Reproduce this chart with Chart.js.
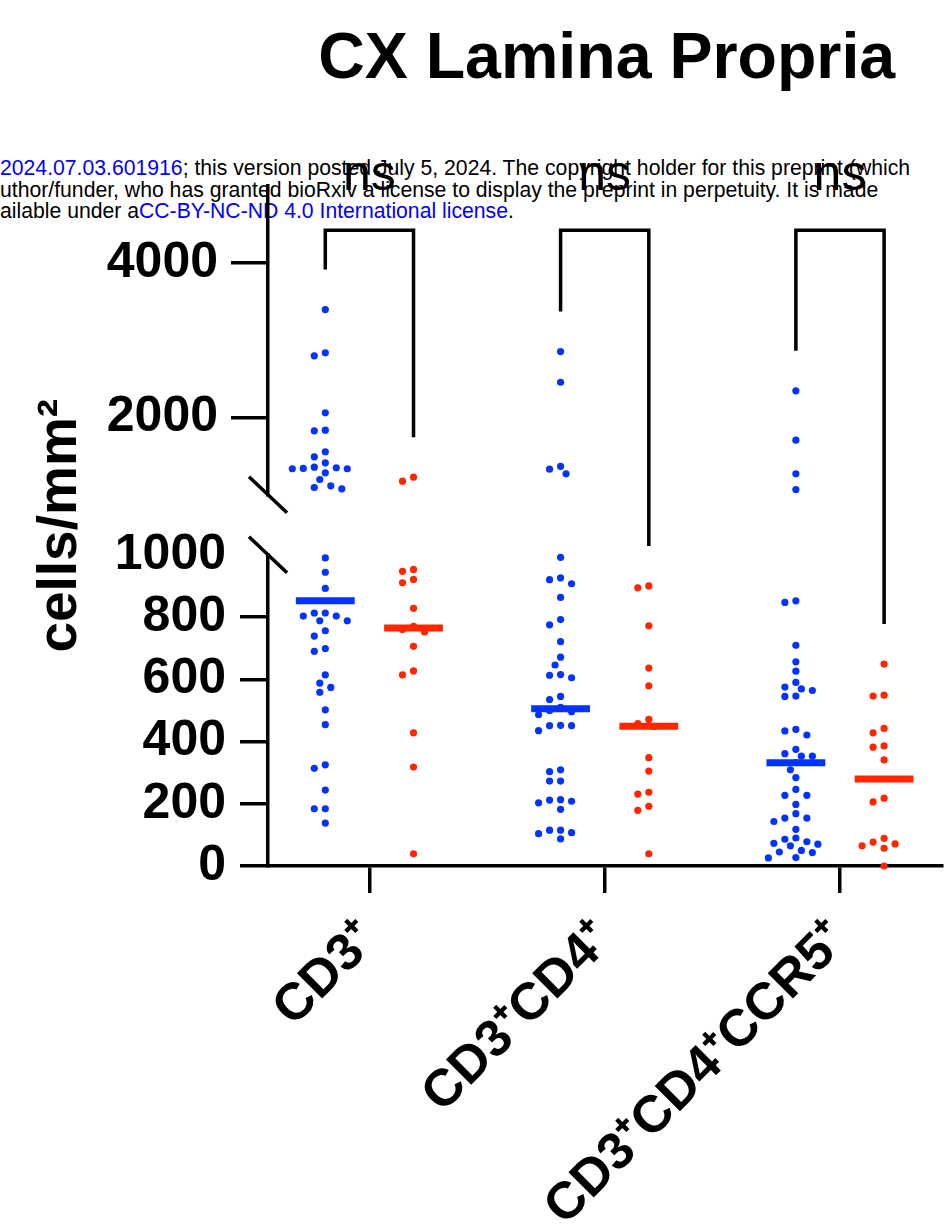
<!DOCTYPE html>
<html>
<head>
<meta charset="utf-8">
<title>CX Lamina Propria</title>
<script src="https://cdn.jsdelivr.net/npm/chart.js@4.4.1/dist/chart.umd.min.js"></script>
<style>
  html, body { margin: 0; padding: 0; background: #fff; }
  #wrap { position: relative; width: 945px; height: 1231px; overflow: hidden; }
  .wm { position: absolute; left: 0; white-space: nowrap; color: #000;
        font-family: 'Liberation Sans', Arial, Helvetica, sans-serif; font-size: 21.2px; line-height: 21.5px; }
  .wm .lnk { color: #0000ff; }
  #chart { position: absolute; left: 0; top: 0; }
</style>
</head>
<body>
<div id="wrap">
  <div class="wm" style="top:157px"><span class="lnk">2024.07.03.601916</span>; this version posted July 5, 2024. The copyright holder for this preprint (which</div>
  <div class="wm" style="top:178.5px">uthor/funder, who has granted bioRxiv a license to display the preprint in perpetuity. It is made</div>
  <div class="wm" style="top:200px">ailable under a<span class="lnk">CC-BY-NC-ND 4.0 International license</span>.</div>
  <canvas id="chart" width="945" height="1231"></canvas>
</div>
<script>
// categories and significance labels
var categories = ['CD3\u207A', 'CD3\u207ACD4\u207A', 'CD3\u207ACD4\u207ACCR5\u207A'];
var pLabels = ['ns', 'ns', 'ns'];

// cells/mm2 (blue and red group of each category)
var cd3Blue = [3396, 2836, 2798, 2061, 1836, 1828, 1557, 1492, 1414, 1358, 1350, 1341, 1337, 1337, 1285, 1198, 1117, 1095, 1078,
               990, 944, 892, 813, 813, 803, 803, 788, 788, 756, 739, 699, 690, 614, 588, 574, 558, 502, 454, 325, 314, 244, 184, 184, 138];
var cd3Red = [1228, 1176, 953, 947, 921, 910, 828, 770, 760, 752, 706, 627, 614, 428, 318, 39];
var cd4Blue = [2853, 2456, 1367, 1332, 1272, 992, 926, 920, 907, 863, 792, 775, 721, 671, 646, 615, 613, 605, 545, 535,
               510, 500, 496, 486, 452, 451, 451, 435, 309, 303, 273, 273, 213, 212, 208, 203, 182, 115, 115, 107, 104, 87];
var cd4Red = [900, 894, 772, 636, 579, 471, 458, 449, 348, 305, 237, 231, 192, 179, 39];
var ccr5Blue = [2345, 1707, 1272, 1069, 852, 847, 709, 656, 626, 590, 575, 569, 564, 546, 545, 439, 434, 421, 375, 361, 353, 353,
                332, 309, 284, 246, 227, 227, 198, 168, 154, 154, 143, 118, 90, 86, 78, 73, 70, 65, 50, 45, 43, 27, 26];
var ccr5Red = [649, 549, 546, 442, 428, 386, 382, 341, 218, 206, 89, 77, 71, 65, 57, 0];

// tick labels of the two axis segments
var yLowTicks = [0, 200, 400, 600, 800, 1000];
var yTopTicks = [2000, 4000];

var blueColor = '#0433ff';
var redColor = '#ff2600';
var fontFamily = "'Liberation Sans', Arial, Helvetica, sans-serif";
var breakAt = 1000;
var bracketTop = 4420;

var groups = [[cd3Blue, cd3Red], [cd4Blue, cd4Red], [ccr5Blue, ccr5Red]];

function median(arr) {
  var s = arr.slice().sort(function(a, b) { return a - b; });
  var m = Math.floor(s.length / 2);
  return s.length % 2 ? s[m] : (s[m - 1] + s[m]) / 2;
}

// simple beeswarm in pixels: nearest free slot on a half-step grid
function swarm(pys, minDist, step) {
  var order = pys.map(function(p, i) { return i; }).sort(function(a, b) { return pys[a] - pys[b]; });
  var cands = [0];
  for (var k = 1; k <= 14; k++) { cands.push(-k * step / 2, k * step / 2); }
  var placed = [];
  var out = [];
  order.forEach(function(i) {
    var y = pys[i];
    for (var c = 0; c < cands.length; c++) {
      var cx = cands[c];
      var ok = placed.every(function(p) {
        return (p.x - cx) * (p.x - cx) + (p.y - y) * (p.y - y) >= minDist * minDist;
      });
      if (ok) { out[i] = cx; placed.push({x: cx, y: y}); break; }
    }
  });
  return out;
}

document.addEventListener('DOMContentLoaded', function() {
  var ctx = document.getElementById('chart').getContext('2d');
  Chart.defaults.font.family = fontFamily;
  Chart.defaults.color = '#000';

  var columns = [];
  var datasets = [];
  groups.forEach(function(g, gi) {
    [[g[0], blueColor, -0.1875], [g[1], redColor, 0.1875]].forEach(function(c) {
      var col = {values: c[0], color: c[1], x: gi + c[2]};
      var med = median(c[0]);
      datasets.push({
        label: 'median', showLine: true, yAxisID: 'y', order: 0,
        data: [{x: col.x - 0.125, y: med}, {x: col.x + 0.125, y: med}],
        borderColor: c[1], borderWidth: 7, borderCapStyle: 'butt', pointRadius: 0, clip: false
      });
      col.low = datasets.push({
        label: 'low', yAxisID: 'y', order: 1, clip: false,
        data: c[0].filter(function(v) { return v <= breakAt; }).map(function(v) { return {x: col.x, y: v}; }),
        backgroundColor: c[1], pointRadius: 3.6, pointBorderWidth: 0, pointHoverRadius: 3.6
      }) - 1;
      col.high = datasets.push({
        label: 'high', yAxisID: 'yTop', order: 1, clip: false,
        data: c[0].filter(function(v) { return v > breakAt; }).map(function(v) { return {x: col.x, y: v}; }),
        backgroundColor: c[1], pointRadius: 3.6, pointBorderWidth: 0, pointHoverRadius: 3.6
      }) - 1;
      columns.push(col);
    });
  });

  function fixWidth(scale) {
    scale.width = 268;
    scale.paddingTop = 0;
    scale.paddingBottom = 0;
  }
  function plain(v) { return String(v); }

  var axisLine = {color: '#000', width: 3.5};

  var decorations = {
    id: 'decorations',
    afterDraw: function(chart) {
      var c = chart.ctx;
      var area = chart.chartArea;
      var xs = chart.scales.x, yLow = chart.scales.y, yTop = chart.scales.yTop;
      function pix(v) { return v > breakAt ? yTop.getPixelForValue(v) : yLow.getPixelForValue(v); }
      c.save();
      c.fillStyle = '#000';
      c.strokeStyle = '#000';

      c.font = 'bold 64.5px ' + fontFamily;
      c.textAlign = 'center';
      c.textBaseline = 'alphabetic';
      c.fillText('CX Lamina Propria', (area.left + area.right) / 2 + 2, 78);

      c.save();
      c.translate(76, (area.top + area.bottom) / 2);
      c.rotate(-Math.PI / 2);
      c.font = 'bold 55px ' + fontFamily;
      c.fillText('cells/mm\u00B2', 0, 0);
      c.restore();

      // axis break marks
      c.lineWidth = 3.5;
      c.lineCap = 'butt';
      [yLow.top, yTop.bottom].forEach(function(y) {
        c.beginPath();
        c.moveTo(area.left - 19, y - 18);
        c.lineTo(area.left + 19, y + 18);
        c.stroke();
      });

      // significance brackets
      c.lineJoin = 'miter';
      c.font = 'normal 50px ' + fontFamily;
      var topY = yTop.getPixelForValue(bracketTop);
      for (var gi = 0; gi < groups.length; gi++) {
        var l = columns[gi * 2], r = columns[gi * 2 + 1];
        var xl = xs.getPixelForValue(l.x), xr = xs.getPixelForValue(r.x);
        var yl = pix(Math.max.apply(null, l.values)) - 40;
        var yr = pix(Math.max.apply(null, r.values)) - 40;
        c.beginPath();
        c.moveTo(xl, yl);
        c.lineTo(xl, topY);
        c.lineTo(xr, topY);
        c.lineTo(xr, yr);
        c.stroke();
        c.fillText(pLabels[gi], xs.getPixelForValue(gi), topY - 40);
      }
      c.restore();
    }
  };

  var chart = new Chart(ctx, {
    type: 'scatter',
    data: {datasets: datasets},
    plugins: [decorations],
    options: {
      responsive: false,
      animation: false,
      events: [],
      layout: {padding: {top: 185.5, left: 0, right: 0, bottom: 0}},
      plugins: {legend: {display: false}, tooltip: {enabled: false}},
      scales: {
        x: {
          type: 'linear', position: 'bottom', min: -0.431, max: 2.431,
          afterBuildTicks: function(axis) { axis.ticks = categories.map(function(c, i) { return {value: i}; }); },
          afterFit: function(scale) { scale.height = 365; scale.paddingLeft = 0; scale.paddingRight = 0; },
          ticks: {
            autoSkip: false, minRotation: 45, maxRotation: 45, padding: 16,
            font: {size: 52, weight: 'bold'},
            callback: function(v) { return categories[v]; }
          },
          grid: {drawOnChartArea: false, color: '#000', tickColor: '#000', lineWidth: 3.5, tickWidth: 3.5, tickLength: 27},
          border: axisLine
        },
        yTop: {
          type: 'linear', position: 'left', stack: 'yaxis', stackWeight: 309.4, weight: 3,
          min: breakAt, max: 5000,
          afterBuildTicks: function(axis) { axis.ticks = yTopTicks.map(function(v) { return {value: v}; }); },
          afterFit: fixWidth,
          ticks: {autoSkip: false, padding: 13, font: {size: 50, weight: 'bold'}, callback: plain},
          grid: {drawOnChartArea: false, color: '#000', tickColor: '#000', lineWidth: 3.5, tickWidth: 3.5, tickLength: 37},
          border: axisLine
        },
        yGap: {
          type: 'linear', position: 'left', stack: 'yaxis', stackWeight: 60, weight: 2,
          min: 0, max: 1,
          afterFit: fixWidth,
          ticks: {display: false},
          grid: {display: false},
          border: {display: false}
        },
        y: {
          type: 'linear', position: 'left', stack: 'yaxis', stackWeight: 311.25, weight: 1,
          min: 0, max: breakAt,
          afterBuildTicks: function(axis) { axis.ticks = yLowTicks.map(function(v) { return {value: v}; }); },
          afterFit: fixWidth,
          ticks: {autoSkip: false, padding: 14, font: {size: 50, weight: 'bold'}, callback: plain},
          grid: {
            drawOnChartArea: false, color: '#000', lineWidth: 3.5, tickWidth: 3.5, tickLength: 28,
            tickColor: function(c) { return c.tick && c.tick.value === breakAt ? 'rgba(0,0,0,0)' : '#000'; }
          },
          border: axisLine
        }
      }
    }
  });

  // spread the dots sideways once the scales know their pixels
  var xs = chart.scales.x;
  var pxPerUnit = xs.getPixelForValue(1) - xs.getPixelForValue(0);
  columns.forEach(function(col) {
    var low = datasets[col.low].data, high = datasets[col.high].data;
    var pts = low.concat(high);
    var pys = pts.map(function(p) {
      return (p.y > breakAt ? chart.scales.yTop : chart.scales.y).getPixelForValue(p.y);
    });
    var offs = swarm(pys, 8.5, 11);
    var moved = pts.map(function(p, i) { return {x: col.x + offs[i] / pxPerUnit, y: p.y}; });
    datasets[col.low].data = moved.slice(0, low.length);
    datasets[col.high].data = moved.slice(low.length);
  });
  chart.update('none');
});
</script>
</body>
</html>
